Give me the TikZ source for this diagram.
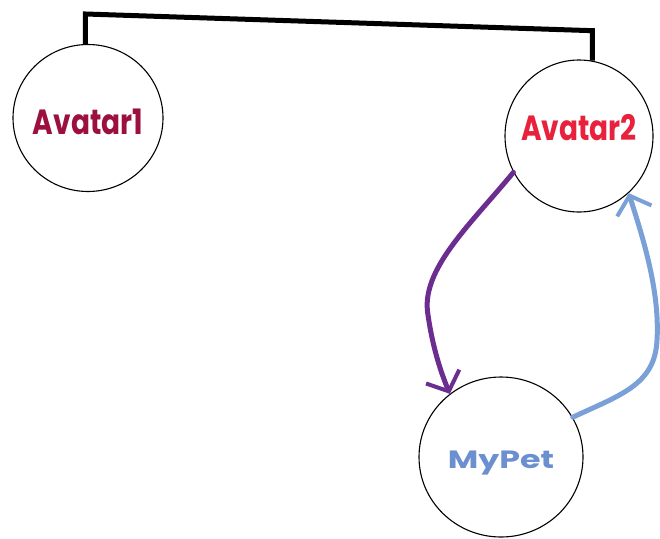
\documentclass[tikz,border=0pt]{standalone}
\usepackage{fontspec}
\usepackage{graphicx}
\newfontfamily\disp{Poppins}
\usetikzlibrary{shapes.geometric,arrows.meta,calc}
\definecolor{wine}{HTML}{9C1040}
\definecolor{scarlet}{HTML}{E8223D}
\definecolor{petblue}{HTML}{6B8FCF}
\definecolor{grape}{HTML}{6B2D8F}
\definecolor{sky}{HTML}{7AA0D8}
\begin{document}
\begin{tikzpicture}[x=1pt,y=-1pt,
  blob/.style={ellipse,draw=black,line width=1.1pt,inner sep=0pt},
  tag/.style={font=\disp\bfseries\fontsize{28}{28}\selectfont},
  link/.style={line width=5pt,line join=miter},
  flow/.style={line width=5pt,line cap=round,
    -{Straight Barb[length=16pt,width=36pt,line width=4pt]}}]
\useasboundingbox (0,0) rectangle (660,538);
\fill[white] (0,0) rectangle (660,538);

% the three entities
\node[blob,minimum width=150pt,minimum height=147pt,
  label={[tag,text=wine,yshift=-4pt]center:\scalebox{1}[1.25]{Avatar1}}] (a1) at (88,118) {};
\node[blob,minimum width=148pt,minimum height=152pt,
  label={[tag,text=scarlet,yshift=8pt]center:\scalebox{1}[1.25]{Avatar2}}] (a2) at (579,136) {};
\node[blob,minimum width=164pt,minimum height=160pt,
  label={[tag,text=petblue,yshift=-6pt,font=\disp\bfseries\fontsize{25}{25}\selectfont]center:\scalebox{1.33}[1]{MyPet}}] (pet) at (501,457) {};

% link between the two avatars
\draw[link] (a1.92) -- ++(0,-30) -- ($(a2.80)+(0,-30)$) -- (a2.80);

% Avatar2 -> MyPet
\draw[flow,draw=grape] (a2.209) .. controls (470,225) and (420,270) .. (428,315)
  .. controls (433,350) and (442,375) .. (pet.129);

% MyPet -> Avatar2
\draw[flow,draw=sky] (pet.29) .. controls (620,395) and (655,385) .. (657,340)
  .. controls (660,290) and (642,235) .. (a2.311);
\end{tikzpicture}
\end{document}
